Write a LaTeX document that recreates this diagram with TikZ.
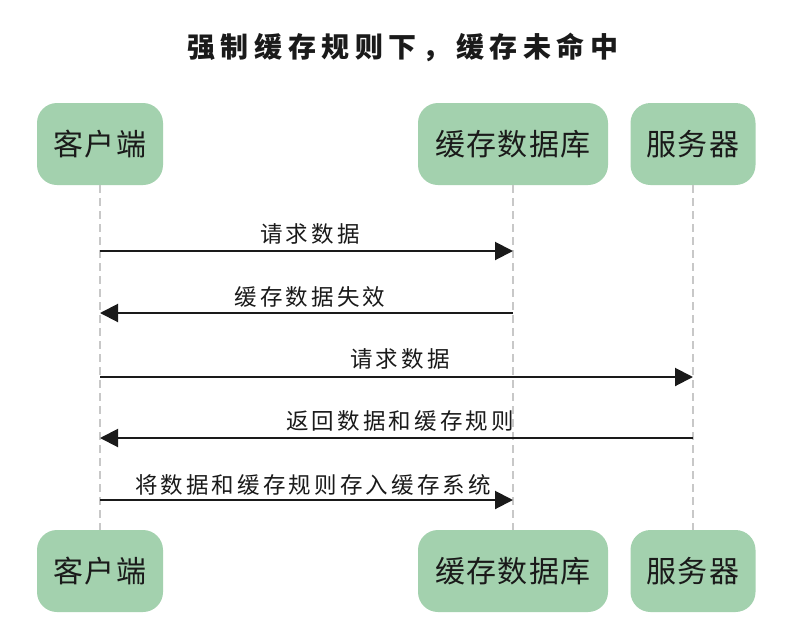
\documentclass[tikz,border=0pt]{standalone}
\usepackage{fontspec}
\setmainfont{Noto Sans CJK SC}
\usetikzlibrary{arrows.meta}
\definecolor{boxgreen}{HTML}{A3D1AE}
\definecolor{lifegray}{HTML}{C8C8C8}
\definecolor{ink}{HTML}{1A1A1A}
\begin{document}
\begin{tikzpicture}[x=1pt,y=-1pt,
  actor/.style={draw=none,fill=boxgreen,rounded corners=20pt,minimum height=82pt,inner sep=0pt,font=\fontsize{30}{33}\selectfont\addfontfeatures{LetterSpace=4},text=ink},
  life/.style={draw=lifegray,line width=1.2pt,dash pattern=on 8pt off 5pt},
  msg/.style={draw=ink,line width=2pt,-{Triangle[length=18pt,width=18pt]}},
  lbl/.style={font=\fontsize{22.5}{25}\selectfont\addfontfeatures{LetterSpace=14},text=ink,inner sep=0pt}]
\useasboundingbox[fill=white] (0,0) rectangle (788,622);
\node[font=\bfseries\fontsize{28}{31}\selectfont\addfontfeatures{LetterSpace=20},text=ink] (title) at (403,47) {强制缓存规则下，缓存未命中};
\node[actor,minimum width=126pt] (c) at (100,144) {客户端};
\node[actor,minimum width=190pt] (d) at (513,144) {缓存数据库};
\node[actor,minimum width=125pt] (s) at (693,144) {服务器};
\node[actor,minimum width=126pt] (cb) at (100,571) {客户端};
\node[actor,minimum width=190pt] (db) at (513,571) {缓存数据库};
\node[actor,minimum width=125pt] (sb) at (693,571) {服务器};
\draw[life] (c.south) -- (cb.north);
\draw[life] (d.south) -- (db.north);
\draw[life] (s.south) -- (sb.north);
\coordinate (c1) at (100,251); \coordinate (d1) at (513,251);
\coordinate (c2) at (100,313); \coordinate (d2) at (513,313);
\coordinate (c3) at (100,377); \coordinate (s3) at (693,377);
\coordinate (c4) at (100,438); \coordinate (s4) at (693,438);
\coordinate (c5) at (100,500); \coordinate (d5) at (513,500);
\draw[msg] (c1) -- (d1);
\draw[msg] (d2) -- (c2);
\draw[msg] (c3) -- (s3);
\draw[msg] (s4) -- (c4);
\draw[msg] (c5) -- (d5);
\node[lbl] (l1) at (310,234) {请求数据};
\node[lbl] (l2) at (310,297) {缓存数据失效};
\node[lbl] (l3) at (400,359) {请求数据};
\node[lbl] (l4) at (400,421) {返回数据和缓存规则};
\node[lbl] (l5) at (313,485) {将数据和缓存规则存入缓存系统};
\end{tikzpicture}
\end{document}
